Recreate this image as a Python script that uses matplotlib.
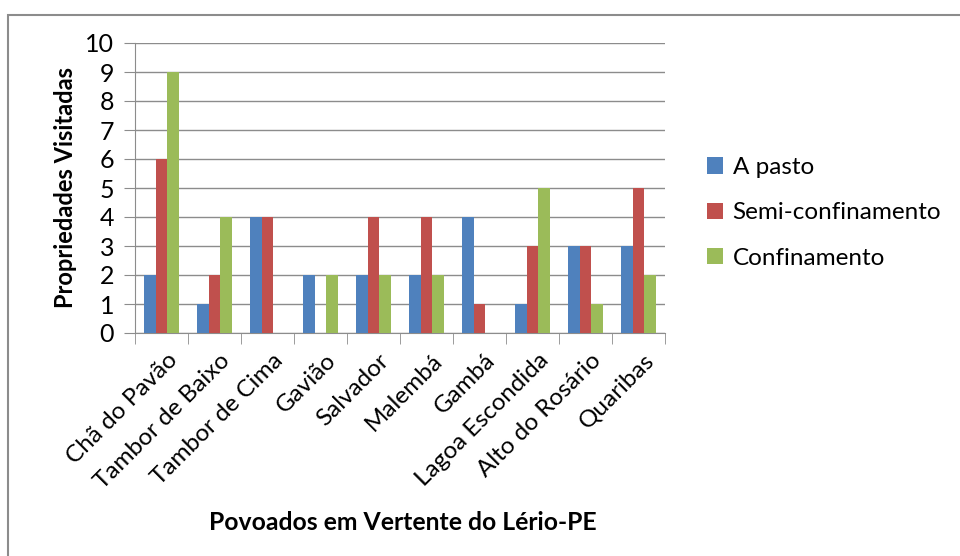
import numpy as np
import matplotlib.pyplot as plt
import matplotlib.transforms as mtransforms
from matplotlib.patches import Rectangle

# data
povoados = ["Chã do Pavão", "Tambor de Baixo", "Tambor de Cima", "Gavião", "Salvador",
            "Malembá", "Gambá", "Lagoa Escondida", "Alto do Rosário", "Quaribas"]
a_pasto = [2, 1, 4, 2, 2, 2, 4, 1, 3, 3]
semi_conf = [6, 2, 4, 0, 4, 4, 1, 3, 3, 5]
confinamento = [9, 4, 0, 2, 2, 2, 0, 5, 1, 2]
series_names = ["A pasto", "Semi-confinamento", "Confinamento"]

plt.rcParams['font.family'] = ['Lato', 'DejaVu Sans']

fig = plt.figure(figsize=(9.6, 5.56), dpi=100)
ax = fig.add_axes([135/960, 1-333/556, 530/960, 290/556])

# outer chart frame
fig.patches.append(Rectangle((8/960, -0.01), 1.0, 1-15/556+0.01, transform=fig.transFigure,
                             fill=False, edgecolor="#8c8c8c", linewidth=1.5))

x = np.arange(len(povoados))
w = 1/4.5
colors = ["#4F81BD", "#C0504D", "#9BBB59"]
for i, (vals, name) in enumerate(zip([a_pasto, semi_conf, confinamento], series_names)):
    ax.bar(x + (i-1)*w, vals, width=w, color=colors[i], label=name, zorder=3)

ax.set_xlim(-0.5, len(povoados)-0.5)
ax.set_ylim(0, 10)
ax.set_yticks(range(0, 11))
ax.grid(axis='y', color="#8c8c8c", linewidth=1, zorder=0)
for s in ['top', 'right']:
    ax.spines[s].set_visible(False)
for s in ['left', 'bottom']:
    ax.spines[s].set_color("#8c8c8c")
ax.tick_params(axis='y', length=8, color="#8c8c8c", labelsize=18, pad=7)
ax.set_xticks(x)
ax.set_xticklabels(povoados, rotation=45, ha='right', rotation_mode='anchor', fontsize=17.5)
ax.tick_params(axis='x', length=0, pad=12)
ax.set_xticks(np.arange(-0.5, len(povoados)), minor=True)
ax.tick_params(axis='x', which='minor', length=8, color="#8c8c8c")
shift = mtransforms.ScaledTranslation(5/100, 0, fig.dpi_scale_trans)
for lbl in ax.get_xticklabels():
    lbl.set_transform(lbl.get_transform() + shift)

ax.set_ylabel("Propriedades Visitadas", fontsize=17, fontweight='bold', labelpad=6)
fig.text(403/960, 1-522/556, "Povoados em Vertente do Lério-PE", fontsize=17.8,
         fontweight='bold', ha='center', va='center')

ax.legend(loc='center left', bbox_to_anchor=(1.038, 0.414), frameon=False, fontsize=17.5,
          handlelength=0.65, handleheight=0.65, handletextpad=0.4, labelspacing=1.0)

plt.savefig("out.png", dpi=100)
